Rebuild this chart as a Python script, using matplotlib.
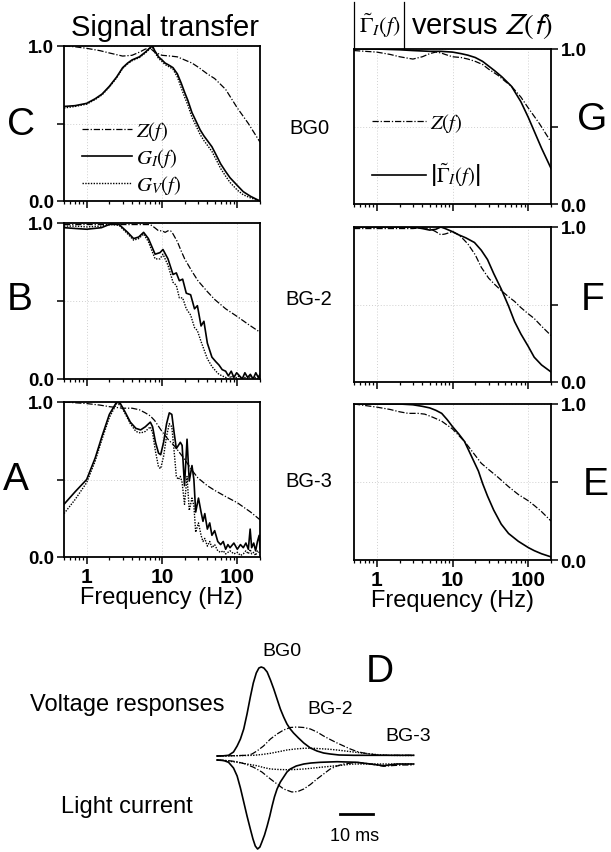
import matplotlib
matplotlib.use('Agg')
import matplotlib.pyplot as plt
from matplotlib.lines import Line2D
from matplotlib.ticker import NullFormatter

plt.rcParams['font.family'] = ['Liberation Sans', 'DejaVu Sans']
plt.rcParams['mathtext.fontset'] = 'stix'

# ---------------- data: signal transfer (left column) ----------------
# panel C, BG0
fz_c = [0.5, 0.7, 1, 1.5, 2, 3, 4, 5, 6, 7, 8, 10, 13, 16, 20, 25, 31, 40, 50, 70, 100, 140, 200]
z_c = [1.0, 0.995, 0.985, 0.97, 0.955, 0.935, 0.94, 0.96, 0.98, 0.985, 0.96, 0.94, 0.935, 0.93, 0.91, 0.89, 0.86, 0.82, 0.79, 0.72, 0.60, 0.50, 0.38]
fg_c = [0.5, 0.7, 1, 1.3, 1.6, 2, 2.5, 3, 3.5, 4, 5, 6, 7, 7.5, 8, 9, 10, 11, 12, 13, 14, 16, 18, 20,
        22, 25, 28, 32, 36, 40, 46, 52, 60, 70, 80, 100, 120, 150, 200]
gi_c = [0.61, 0.615, 0.63, 0.66, 0.69, 0.74, 0.80, 0.86, 0.89, 0.91, 0.93, 0.96, 0.99, 1.0, 0.97, 0.93, 0.91, 0.89, 0.88, 0.87, 0.86, 0.82, 0.76, 0.70,
        0.65, 0.57, 0.52, 0.46, 0.42, 0.39, 0.35, 0.30, 0.24, 0.19, 0.15, 0.10, 0.06, 0.03, 0.0]
gv_c = [0.60, 0.61, 0.625, 0.655, 0.685, 0.735, 0.795, 0.855, 0.885, 0.905, 0.925, 0.955, 0.985, 0.99, 0.96, 0.92, 0.90, 0.88, 0.87, 0.86, 0.85, 0.80, 0.73, 0.67,
        0.62, 0.54, 0.49, 0.43, 0.39, 0.36, 0.32, 0.27, 0.21, 0.16, 0.12, 0.07, 0.04, 0.02, 0.0]

# panel B, BG-2
fz_b = [0.5, 1, 2, 3, 5, 7, 8, 9, 10, 11, 12, 13, 14, 16, 18, 20, 25, 30, 40, 50, 70, 100, 140, 200]
z_b = [0.99, 0.99, 0.99, 0.99, 0.99, 0.99, 0.97, 0.95, 0.95, 0.94, 0.95, 0.95, 0.93, 0.88, 0.82, 0.77, 0.69, 0.63, 0.56, 0.51, 0.45, 0.40, 0.35, 0.30]
fg_b = [0.5, 0.7, 1, 1.57, 2.1, 2.7, 3.5, 4.2, 4.9, 5.7, 6.6, 8.1, 9.4, 10.3, 12, 14, 15.5, 17, 18.8, 21, 24, 27, 29.5,
        33, 36, 40, 46, 52, 57, 63, 70, 76, 83, 90, 98, 107, 116, 126, 137, 149, 162, 176, 190, 200]
gi_b = [0.97, 0.965, 0.96, 0.97, 0.995, 0.99, 0.94, 0.90, 0.91, 0.94, 0.90, 0.80, 0.81, 0.83, 0.77, 0.67, 0.68, 0.63, 0.64, 0.55, 0.54, 0.45, 0.47,
        0.34, 0.37, 0.23, 0.14, 0.11, 0.09, 0.06, 0.05, 0.02, 0.05, 0.01, 0.04, 0.02, 0.0, 0.04, 0.01, 0.03, 0.0, 0.04, 0.01, 0.03]
gv_b = [0.98, 0.98, 0.975, 0.98, 0.99, 0.985, 0.93, 0.89, 0.90, 0.93, 0.88, 0.77, 0.77, 0.80, 0.73, 0.62, 0.60, 0.52, 0.52, 0.45, 0.41, 0.33, 0.31,
        0.24, 0.19, 0.13, 0.08, 0.05, 0.03, 0.02, 0.01, 0.0, 0.02, 0.0, 0.01, 0.02, 0.0, 0.01, 0.0, 0.02, 0.0, 0.01, 0.0, 0.01]

# panel A, BG-3
fz_a = [0.5, 1, 1.5, 2, 3, 4, 5, 6, 7, 8, 10, 12, 15, 20, 25, 30, 40, 50, 70, 100, 150, 200]
z_a = [1.0, 0.99, 0.98, 0.97, 0.96, 0.96, 0.95, 0.93, 0.91, 0.88, 0.81, 0.76, 0.71, 0.63, 0.56, 0.51, 0.46, 0.43, 0.39, 0.35, 0.29, 0.24]
fg_a = [0.5, 0.7, 1.0, 1.3, 1.6, 2.0, 2.5, 2.8, 3.2, 3.8, 4.5, 5.2, 6.0, 7.0, 7.5, 8.2, 9.0, 9.6, 10.5, 11.5, 12.5, 13.5, 14.5,
        15.5, 16.5, 17.5, 18.5, 19.9, 21.5, 23, 25, 26.5, 28, 30.5, 33, 35, 37, 40, 43, 46, 50, 55, 60, 65, 70, 75, 80,
        90, 100, 110, 120, 130, 140, 148, 155, 165, 175, 185, 195, 200]
gi_a = [0.34, 0.42, 0.50, 0.64, 0.78, 0.92, 1.0, 0.99, 0.94, 0.87, 0.83, 0.82, 0.84, 0.87, 0.84, 0.74, 0.67, 0.66, 0.74, 0.86, 0.93, 0.92, 0.80,
        0.70, 0.72, 0.74, 0.72, 0.46, 0.76, 0.49, 0.59, 0.50, 0.29, 0.38, 0.29, 0.23, 0.28, 0.18, 0.22, 0.14, 0.17, 0.10, 0.08, 0.10, 0.05, 0.08, 0.06,
        0.09, 0.05, 0.08, 0.06, 0.09, 0.05, 0.18, 0.06, 0.09, 0.04, 0.10, 0.14, 0.06]
gv_a = [0.28, 0.37, 0.48, 0.62, 0.76, 0.90, 0.99, 0.98, 0.93, 0.86, 0.81, 0.80, 0.81, 0.84, 0.80, 0.68, 0.58, 0.57, 0.65, 0.78, 0.86, 0.84, 0.68,
        0.52, 0.50, 0.52, 0.48, 0.34, 0.52, 0.30, 0.38, 0.33, 0.16, 0.22, 0.14, 0.10, 0.12, 0.07, 0.10, 0.06, 0.08, 0.04, 0.03, 0.04, 0.02, 0.03, 0.04,
        0.02, 0.03, 0.01, 0.02, 0.04, 0.02, 0.05, 0.02, 0.03, 0.01, 0.04, 0.03, 0.02]

# ---------------- data: |Gamma_I| versus Z (right column) ----------------
fz_g = [0.5, 0.7, 1, 1.5, 2, 3, 4, 5, 6, 7, 8, 10, 13, 16, 20, 25, 30, 40, 50, 60, 80, 100, 140, 200]
z_g = [0.99, 0.985, 0.98, 0.965, 0.95, 0.935, 0.95, 0.97, 0.98, 0.975, 0.965, 0.95, 0.945, 0.935, 0.92, 0.90, 0.87, 0.83, 0.79, 0.76, 0.69, 0.62, 0.52, 0.40]
fr_g = [0.5, 1, 2, 3, 5, 7, 10, 13, 16, 20, 25, 30, 36, 45, 60, 80, 100, 120, 150, 200]
r_g = [1.0, 1.0, 0.995, 0.99, 0.985, 0.985, 0.98, 0.97, 0.96, 0.945, 0.92, 0.89, 0.86, 0.82, 0.76, 0.66, 0.56, 0.47, 0.36, 0.23]

fz_f = [0.5, 1, 2, 3, 4, 5, 6, 7, 8, 10, 12, 14, 16, 20, 24, 30, 36, 44, 55, 66, 80, 100, 120, 150, 200]
z_f = [0.99, 0.99, 0.99, 0.99, 0.995, 0.99, 0.97, 0.95, 0.955, 0.97, 0.95, 0.92, 0.89, 0.82, 0.74, 0.67, 0.63, 0.59, 0.55, 0.52, 0.48, 0.44, 0.41, 0.36, 0.30]
fr_f = [0.5, 1, 2, 3, 4, 5, 6, 7, 8, 10, 12, 15, 19.5, 24, 29, 35, 44, 55, 66, 80, 100, 120, 150, 200]
r_f = [1.0, 1.0, 1.0, 1.0, 0.99, 0.98, 0.985, 1.0, 0.99, 0.97, 0.95, 0.93, 0.90, 0.85, 0.79, 0.70, 0.60, 0.49, 0.39, 0.31, 0.23, 0.16, 0.11, 0.065]

fz_e = [0.5, 1, 1.5, 2, 2.6, 3.5, 4.3, 5.5, 7.2, 10, 14.4, 20, 24, 30, 40, 55, 74, 100, 120, 150, 200]
z_e = [1.0, 0.98, 0.965, 0.95, 0.94, 0.94, 0.935, 0.915, 0.89, 0.84, 0.76, 0.67, 0.62, 0.58, 0.53, 0.47, 0.42, 0.38, 0.35, 0.31, 0.25]
fr_e = [0.5, 1, 2, 3, 4, 5, 6, 7.2, 8.5, 10, 12, 14.4, 18, 22, 25, 29, 35, 44, 55, 74, 100, 120, 150, 200]
r_e = [1.0, 1.0, 1.0, 0.995, 0.985, 0.975, 0.96, 0.94, 0.90, 0.855, 0.81, 0.76, 0.66, 0.57, 0.49, 0.41, 0.32, 0.23, 0.17, 0.12, 0.08, 0.06, 0.04, 0.02]

# ---------------- data: panel D traces (time in ms) ----------------
t_v0 = [0, 2, 3.5, 5, 6.1, 7.1, 8.1, 9.1, 10.1, 11.0, 11.9, 12.7, 13.4, 14.2, 15.2, 16.2, 17.2, 18.2, 19.2, 20.2,
        21.2, 22.2, 23.2, 24.7, 26.3, 28.3, 30.3, 32.3, 34.3, 37, 41.4, 50, 59.6]
v0 = [0, 0.2, 0.7, 4, 10, 17, 27, 42, 59, 73, 83, 88, 89, 88, 84, 76, 67, 57, 47, 39,
      32, 27, 23, 18, 13, 8, 5, 3, 2, 1, 0.7, 0.7, 0.7]
t_v2 = [0, 5, 9.1, 10.6, 12.1, 14.1, 16.2, 18.2, 20.2, 22.2, 24.2, 26.3, 28.3, 30.3, 32.3, 34.3, 36.4, 38.4, 40.4,
        42.4, 44.4, 48.5, 52, 56.6, 59.6]
v2 = [0, 0.3, 0.7, 2, 5, 10, 17, 22, 26, 28.5, 29, 28.5, 27, 24, 20, 16.5, 13, 10, 7,
      4.5, 3, 1, 0.7, 0.7, 0.7]
t_v3 = [0, 5, 11.1, 13.6, 16.2, 18.7, 21.2, 23.7, 26.3, 28.8, 31.3, 33.8, 36.4, 38.9, 41.4, 44, 46.5, 49, 51.5, 55, 59.6]
v3 = [0, 0.2, 0.7, 1.5, 2.7, 4.3, 6, 7, 7.7, 7.8, 7.3, 6.8, 6, 5, 4, 3, 2, 1.3, 0.7, 0.5, 0.5]

t_c0 = [0, 2, 3.5, 5, 6.1, 7.1, 8.1, 9.1, 10.1, 10.9, 11.6, 12.3, 13.0, 13.6, 14.4, 15.2, 16.0, 16.7, 17.4, 18.2,
        19.2, 20.2, 21.2, 22.2, 24, 26.3, 28.5, 31.3, 36.4, 42.4, 46.5, 50.5, 54.5, 59.6]
c0 = [0, -0.5, -2.3, -8, -16, -28, -42, -56, -69, -79, -86, -89, -87, -82, -75, -66, -56, -46, -37, -29,
      -22, -17, -12, -9, -6, -4, -3, -2.3, -1.7, -2.3, -4, -5.7, -4, -4]
t_c2 = [0, 3, 6.1, 8.6, 11.1, 13.6, 16.2, 18.2, 20.2, 22.7, 24.5, 26.3, 28.3, 30.3, 32.3, 34.3, 36.4, 38.4, 42.4,
        46.5, 50.5, 53.5, 56.6, 59.6]
c2 = [0, -0.5, -1.7, -4, -7.3, -12, -19, -24, -29, -32, -31.5, -29, -24.5, -19, -14, -9, -6, -4, -2.3,
      -4, -6.3, -5.5, -5, -5]
t_c3 = [0, 3, 6.1, 9.1, 12.1, 14.1, 16.2, 18.7, 21.2, 23.7, 26.3, 28.8, 31.3, 33.8, 36.4, 38.9, 41.4, 46.5, 52, 56.6, 59.6]
c3 = [0, -0.8, -2.3, -4, -5.7, -7.5, -9, -9.5, -9.7, -9.5, -9, -8.2, -7.3, -6.5, -5.7, -4.8, -4, -4, -4, -4, -4]
current_offset = -4
scalebar_t = [37.3, 47.3]
scalebar_y = -58

# line styles
Z_STYLE = dict(color='k', lw=0.9, ls=(0, (5, 1.5, 1, 1.5)))
SOLID = dict(color='k', lw=1.2, ls='-')
DOTTED = dict(color='k', lw=1.0, ls=(0, (1, 1)))

W, H = 611, 853
fig = plt.figure(figsize=(W / 100, H / 100), dpi=100)


def px_axes(x0, y0, x1, y1):
    return fig.add_axes([x0 / W, 1 - y1 / H, (x1 - x0) / W, (y1 - y0) / H])


def ftext(x, y, s, **kw):
    fig.text(x / W, 1 - y / H, s, **kw)


def setup(ax, right=False, bottom=False):
    ax.set_xscale('log')
    ax.set_xlim(0.5, 200)
    ax.set_ylim(0, 1)
    ax.set_yticks([0, 0.5, 1])
    ax.set_yticklabels(['0.0', '', '1.0'], fontweight='bold', fontsize=13.5)
    ax.set_xticks([1, 10, 100])
    if bottom:
        ax.set_xticklabels(['1', '10', '100'], fontweight='bold', fontsize=15)
        ax.set_xlabel('Frequency (Hz)', fontsize=17, labelpad=0.5)
    else:
        ax.set_xticklabels([])
    ax.xaxis.set_minor_formatter(NullFormatter())
    if right:
        ax.yaxis.tick_right()
    ax.tick_params(which='major', direction='out', length=5, width=1.1, pad=2)
    ax.tick_params(which='minor', direction='out', length=2.5, width=0.9)
    ax.grid(True, which='major', ls=(0, (1, 2)), color='#d0d0d0', lw=0.7)
    for sp in ax.spines.values():
        sp.set_linewidth(1.3)


# left column
ax_c = px_axes(64, 47, 260, 202)
ax_b = px_axes(64, 224, 260, 380)
ax_a = px_axes(64, 403, 260, 558)
# right column
ax_g = px_axes(354, 50, 551, 205)
ax_f = px_axes(354, 228, 551, 383)
ax_e = px_axes(354, 405, 551, 561)

lz, = ax_c.plot(fz_c, z_c, **Z_STYLE)
lgi, = ax_c.plot(fg_c, gi_c, **SOLID)
lgv, = ax_c.plot(fg_c, gv_c, **DOTTED)
ax_b.plot(fz_b, z_b, **Z_STYLE)
ax_b.plot(fg_b, gi_b, **SOLID)
ax_b.plot(fg_b, gv_b, **DOTTED)
ax_a.plot(fz_a, z_a, **Z_STYLE)
ax_a.plot(fg_a, gi_a, **SOLID)
ax_a.plot(fg_a, gv_a, **DOTTED)

rz, = ax_g.plot(fz_g, z_g, **Z_STYLE)
rg, = ax_g.plot(fr_g, r_g, **SOLID)
ax_f.plot(fz_f, z_f, **Z_STYLE)
ax_f.plot(fr_f, r_f, **SOLID)
ax_e.plot(fz_e, z_e, **Z_STYLE)
ax_e.plot(fr_e, r_e, **SOLID)

setup(ax_c)
setup(ax_b)
setup(ax_a, bottom=True)
setup(ax_g, right=True)
setup(ax_f, right=True)
setup(ax_e, right=True, bottom=True)

ax_c.legend([lz, lgi, lgv], [r'$Z(f)$', r'$G_I(f)$', r'$G_V(f)$'], loc='upper left',
            bbox_to_anchor=(0.09, 0.53), frameon=False, fontsize=15, handlelength=2.4,
            handletextpad=0.2, labelspacing=0.2, borderpad=0, borderaxespad=0)
ax_g.legend([rz, rg], [r'$Z(f)$', r'$\left|\tilde{\Gamma}_I(f)\right|$'], loc='upper left',
            bbox_to_anchor=(0.09, 0.60), frameon=False, fontsize=15, handlelength=2.6,
            handletextpad=0.2, labelspacing=1.3, borderpad=0, borderaxespad=0)

# titles
ftext(165, 36, 'Signal transfer', fontsize=21, ha='center', va='baseline')
ftext(380, 33, r'$\tilde{\Gamma}_I(f)$', fontsize=16, ha='center', va='baseline')
ftext(411, 34, r'versus $Z(f)$', fontsize=21, ha='left', va='baseline', math_fontfamily='stixsans')
for xb in (354, 404):
    fig.add_artist(Line2D([xb / W, xb / W], [1 - 3 / H, 1 - 50 / H], color='k', lw=0.9))

# panel letters and conditions
for lab, x, y in [('C', 21, 125), ('B', 20, 300), ('A', 16, 480),
                  ('G', 592, 120), ('F', 593, 300), ('E', 596, 485)]:
    ftext(x, y, lab, fontsize=28, ha='center', va='center')
for lab, y in [('BG0', 129), ('BG-2', 300), ('BG-3', 482)]:
    ftext(309, y, lab, fontsize=14.5, ha='center', va='center')

# panel D
ax_d = px_axes(200, 655, 430, 853)
ax_d.plot(t_v0, v0, **SOLID)
ax_d.plot(t_v2, v2, **Z_STYLE)
ax_d.plot(t_v3, v3, **DOTTED)
ax_d.plot(t_c0, [c + current_offset for c in c0], **SOLID)
ax_d.plot(t_c2, [c + current_offset for c in c2], **Z_STYLE)
ax_d.plot(t_c3, [c + current_offset for c in c3], **DOTTED)
ax_d.plot(scalebar_t, [scalebar_y, scalebar_y], color='k', lw=2)
ax_d.set_xlim(-17 / 3.3, 213 / 3.3)
ax_d.set_ylim(-96, 102)
ax_d.axis('off')

ftext(282, 651, 'BG0', fontsize=14, ha='center', va='center')
ftext(330, 710, 'BG-2', fontsize=14, ha='center', va='center')
ftext(408, 737, 'BG-3', fontsize=14, ha='center', va='center')
ftext(380, 672, 'D', fontsize=28, ha='center', va='center')
ftext(127, 705, 'Voltage responses', fontsize=17, ha='center', va='center')
ftext(127, 807, 'Light current', fontsize=17, ha='center', va='center')
ftext(355, 837, '10 ms', fontsize=13, ha='center', va='center')

fig.savefig('out.png', dpi=100)
